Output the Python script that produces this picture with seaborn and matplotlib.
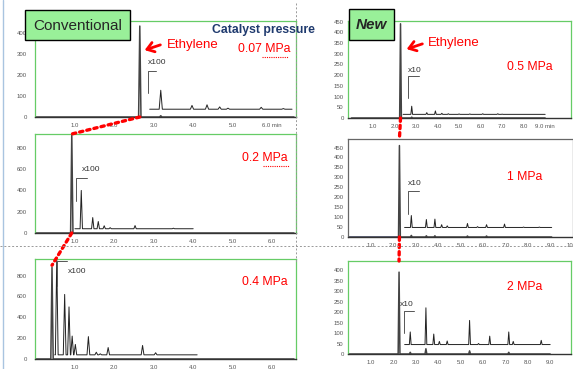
import pandas as pd
import seaborn as sns
import matplotlib.pyplot as plt
from matplotlib.patches import Rectangle, ConnectionPatch
from matplotlib.ticker import MultipleLocator

W, H = 573, 369

# peak tables: retention time (min) and signal
# 0.07 MPa (conventional)
p1_main_t = [2.65, 3.18]
p1_main_h = [432, 6]
p1_zoom_t = [3.18, 3.97, 4.35, 4.67, 4.88, 5.72, 6.28]
p1_zoom_h = [127, 55, 58, 48, 42, 46, 40]
# 0.5 MPa (new)
p2_main_t = [2.28, 2.8]
p2_main_h = [440, 4]
p2_zoom_t = [2.8, 3.5, 3.9, 4.2, 4.5, 5.0, 5.5, 6.1, 6.8, 7.0]
p2_zoom_h = [55, 25, 33, 22, 20, 19, 19, 20, 20, 18]
# 0.2 MPa (conventional)
p3_main_t = [0.93]
p3_main_h = [925]
p3_zoom_t = [1.17, 1.46, 1.6, 1.75, 1.9, 2.53, 3.5]
p3_zoom_h = [400, 145, 108, 68, 50, 70, 45]
# 1 MPa (new)
p4_main_t = [2.27, 2.8, 3.47, 3.85, 5.3, 6.15]
p4_main_h = [460, 8, 6, 6, 5, 5]
p4_zoom_t = [2.8, 3.47, 3.85, 4.15, 4.4, 5.3, 5.75, 6.15, 6.95, 7.8, 8.5]
p4_zoom_h = [108, 88, 90, 62, 56, 68, 52, 62, 65, 50, 50]
# 0.4 MPa (conventional)
p5_main_t = [0.43]
p5_main_h = [880]
p5_zoom_t = [0.55, 0.75, 0.86, 0.94, 1.02, 1.35, 1.55, 1.65, 1.85, 2.72, 3.05]
p5_zoom_h = [960, 620, 500, 220, 140, 215, 65, 50, 110, 130, 60]
# 2 MPa (new)
p6_main_t = [2.25, 2.75, 3.45, 5.4, 7.15]
p6_main_h = [390, 8, 25, 15, 8]
p6_zoom_t = [2.75, 3.45, 3.8, 4.05, 4.4, 5.4, 5.8, 6.3, 7.15, 7.35, 8.6]
p6_zoom_h = [105, 220, 95, 60, 62, 160, 50, 85, 105, 60, 65]

left_xticks = [1, 2, 3, 4, 5, 6]
right_xticks = [1, 2, 3, 4, 5, 6, 7, 8, 9]
p1_xlabels = ["1.0", "2.0", "3.0", "4.0", "5.0", "6.0 min"]
p3_xlabels = ["1.0", "2.0", "3.0", "4.0", "5.0", "6.0"]
p2_xlabels = ["1.0", "2.0", "3.0", "4.0", "5.0", "6.0", "7.0", "8.0", "9.0 min"]
p4_xlabels = ["1.0", "2.0", "3.0", "4.0", "5.0", "6.0", "7.0", "8.0", "9.0", "10"]
p6_xlabels = ["1.0", "2.0", "3.0", "4.0", "5.0", "6.0", "7.0", "8.0", "9.0"]
pressures = ["0.07 MPa", "0.5 MPa", "0.2 MPa", "1 MPa", "0.4 MPa", "2 MPa"]


def trace(t0, t1, base, times, heights, hw):
    xs, ys = [t0], [base]
    for t, h in zip(times, heights):
        xs += [t - hw, t, t + hw]
        ys += [base, h, base]
    xs.append(t1)
    ys.append(base)
    return pd.DataFrame({"t": xs, "signal": ys})


sns.set_style("white")
plt.rcParams["font.family"] = ["Liberation Sans", "DejaVu Sans"]

fig = plt.figure(figsize=(5.73, 3.69), dpi=100)
GREEN = "#66cc66"


def panel(box, xlim, ylim, xticks, xlabels, ystep, yminor, frame=GREEN, ypad=6):
    x0, y0, x1, y1 = box
    ax = fig.add_axes([x0 / W, 1 - y1 / H, (x1 - x0) / W, (y1 - y0) / H])
    ax.set_xlim(*xlim)
    ax.set_ylim(*ylim)
    ax.set_xticks(xticks)
    ax.set_xticklabels(xlabels)
    ax.yaxis.set_major_locator(MultipleLocator(ystep))
    ax.yaxis.set_minor_locator(MultipleLocator(yminor))
    for s in ["top", "right", "left"]:
        ax.spines[s].set_color(frame)
        ax.spines[s].set_linewidth(0.9)
    ax.spines["bottom"].set_color("#333333")
    ax.spines["bottom"].set_linewidth(1.0)
    ax.tick_params(axis="both", which="both", labelsize=4.3, labelcolor="#555555",
                   color=GREEN, length=1.5, width=0.6)
    ax.tick_params(axis="y", which="both", direction="in", length=2.5, pad=ypad)
    ax.tick_params(axis="x", pad=3)
    ax.set_xlabel("")
    ax.set_ylabel("")
    return ax


def draw(ax, main, zoom):
    sns.lineplot(data=main, x="t", y="signal", ax=ax, color="#444444",
                 linewidth=1.1, estimator=None, sort=False)
    sns.lineplot(data=zoom, x="t", y="signal", ax=ax, color="#222222",
                 linewidth=0.7, estimator=None, sort=False)
    ax.set_xlabel("")
    ax.set_ylabel("")


def bracket(ax, x, ylo, yhi, xend, label, tx, ty):
    ax.plot([x, x, xend], [ylo, yhi, yhi], color="#555555", lw=0.7)
    ax.text(tx, ty, label, fontsize=6, color="#333333", va="center", ha="left")


# top left: 0.07 MPa
ax1 = panel((35, 21, 296, 117), (0, 6.6), (0, 456), left_xticks, p1_xlabels, 100, 50)
draw(ax1, trace(0, 6.55, 0, p1_main_t, p1_main_h, 0.03),
     trace(2.9, 6.5, 37, p1_zoom_t, p1_zoom_h, 0.04))
bracket(ax1, 2.85, 113, 220, 3.06, "x100", 2.85, 258)

# top right: 0.5 MPa
ax2 = panel((348, 21, 571, 118), (-0.16, 10.2), (0, 453), right_xticks, p2_xlabels, 50, 50, ypad=3)
draw(ax2, trace(0, 9.0, 0, p2_main_t, p2_main_h, 0.04),
     trace(2.4, 9.0, 17, p2_zoom_t, p2_zoom_h, 0.04))
bracket(ax2, 2.63, 93, 196, 3.14, "x10", 2.63, 224)

# middle left: 0.2 MPa
ax3 = panel((35, 134, 296, 233), (0, 6.6), (0, 930), left_xticks, p3_xlabels, 200, 50)
draw(ax3, trace(0, 6.55, 0, p3_main_t, p3_main_h, 0.03),
     trace(1.01, 4.0, 40, p3_zoom_t, p3_zoom_h, 0.03))
bracket(ax3, 1.04, 302, 519, 1.31, "x100", 1.19, 594)

# middle right: 1 MPa
ax4 = panel((348, 139, 573, 237), (-0.02, 10.0), (0, 493), right_xticks + [10], p4_xlabels, 50, 50,
            frame="#666666", ypad=3)
draw(ax4, trace(0, 9.05, 0, p4_main_t, p4_main_h, 0.04),
     trace(2.5, 9.05, 48, p4_zoom_t, p4_zoom_h, 0.04))
ax4.plot([0, 2.15], [1.5, 1.5], color="#3344aa", lw=1.0)
ax4.get_xticklabels()[-1].set_horizontalalignment("right")
bracket(ax4, 2.64, 117, 232, 3.13, "x10", 2.64, 267)

# bottom left: 0.4 MPa
ax5 = panel((35, 259, 296, 359), (0, 6.6), (0, 960), left_xticks, p3_xlabels, 200, 50)
draw(ax5, trace(0, 6.55, 0, p5_main_t, p5_main_h, 0.03),
     trace(0.5, 4.1, 40, p5_zoom_t, p5_zoom_h, 0.035))
bracket(ax5, 0.56, 700, 942, 0.81, "x100", 0.83, 836)

# bottom right: 2 MPa
ax6 = panel((348, 261, 571, 354), (-0.03, 9.93), (0, 443), right_xticks, p6_xlabels, 50, 50, ypad=3)
draw(ax6, trace(0, 9.0, 0, p6_main_t, p6_main_h, 0.04),
     trace(2.5, 9.0, 45, p6_zoom_t, p6_zoom_h, 0.04))
bracket(ax6, 2.47, 100, 205, 2.92, "x10", 2.29, 238)

# red dotted links between ethylene peaks
links = [(ax1, (2.65, 0), ax3, (0.93, 930)),
         (ax3, (0.93, 0), ax5, (0.43, 900)),
         (ax2, (2.28, 0), ax4, (2.27, 493)),
         (ax4, (2.27, 0), ax6, (2.25, 443))]
for a, pa, b, pb in links:
    cp = ConnectionPatch(xyA=pa, coordsA=a.transData, xyB=pb, coordsB=b.transData,
                         color="red", lw=2.4, ls=(0, (1, 1.2)))
    fig.add_artist(cp)

# overlay in pixel coordinates for labels
ov = fig.add_axes([0, 0, 1, 1], zorder=5)
ov.set_xlim(0, W)
ov.set_ylim(H, 0)
ov.axis("off")
ov.patch.set_alpha(0)

ov.plot([3, 3], [0, H], color="#a9c4e0", lw=1)
ov.plot([0, W], [246, 246], color="#999999", lw=0.7, ls=(0, (2, 2)))
ov.plot([296, 296], [3, 262], color="#999999", lw=0.7, ls=(0, (2, 2)))

ov.add_patch(Rectangle((25, 10), 105, 30, facecolor="#99f099", edgecolor="black", lw=1))
ov.text(77.5, 25.5, "Conventional", fontsize=11, ha="center", va="center")
ov.add_patch(Rectangle((349, 9), 45, 31, facecolor="#99f099", edgecolor="black", lw=1))
ov.text(371.5, 25, "New", fontsize=11, fontweight="bold", fontstyle="italic",
        ha="center", va="center")
ov.text(212, 30, "Catalyst pressure", fontsize=8.8, fontweight="bold", color="#1f3a6e",
        ha="left", va="center")

for xy, xt, tx in [((142, 51), (163, 44), (167, 45)), ((404, 50), (425, 43), (428, 43))]:
    ov.annotate("", xy=xy, xytext=xt,
                arrowprops=dict(arrowstyle="->,head_length=0.5,head_width=0.35",
                                color="red", lw=2))
    ov.text(tx[0], tx[1], "Ethylene", fontsize=9.5, color="red", ha="left", va="center")

label_pos = [(238, 49), (507, 67), (242, 158), (507, 177), (242, 282), (507, 287)]
for (x, y), s in zip(label_pos, pressures):
    ov.text(x, y, s, fontsize=8.8, color="red", ha="left", va="center")
ov.plot([262, 288], [57, 57], color="red", lw=0.8, ls=(0, (1, 1)))
ov.plot([263, 289], [166, 166], color="red", lw=0.8, ls=(0, (1, 1)))

fig.savefig("out.png", dpi=100)
